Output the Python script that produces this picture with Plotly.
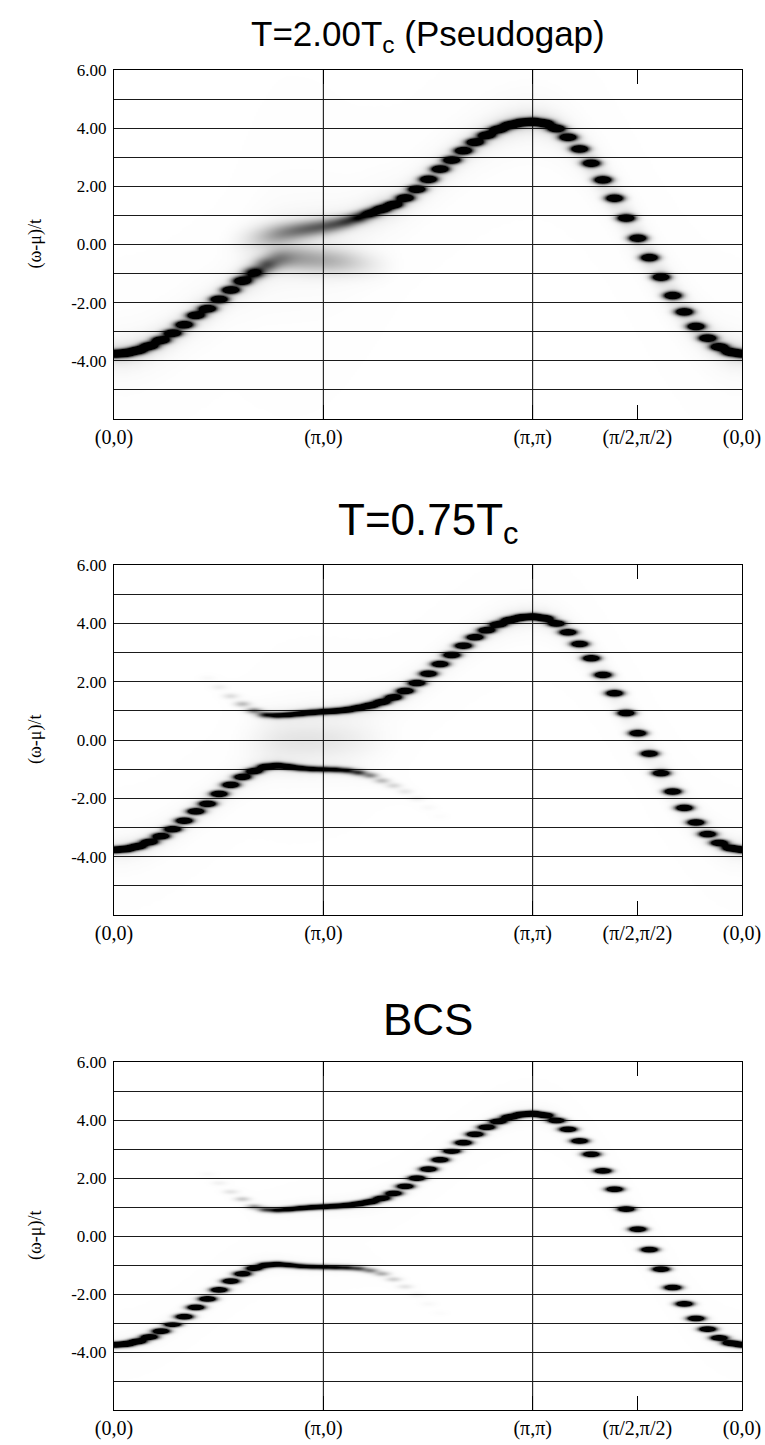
import numpy as np
import plotly.graph_objects as go

# ---------------- data ----------------
k_tick_vals = [0, 1, 2, 2.5, 3]
k_tick_text = ["(0,0)", "(π,0)", "(π,π)", "(π/2,π/2)", "(0,0)"]
k_nodes = [1, 2]
points_per_segment = 18
energy_tick_vals = [-4, -2, 0, 2, 4, 6]
energy_tick_text = ["-4.00", "-2.00", "0.00", "2.00", "4.00", "6.00"]
energy_grid_step = 1

# band energy (ω-μ)/t at each of the 55 k points along (0,0)-(π,0)-(π,π)-(0,0)
band_E = [-3.75, -3.72, -3.63, -3.48, -3.28, -3.04, -2.75, -2.43, -2.10, -1.75,
          -1.40, -1.07, -0.75, -0.46, -0.22, -0.02, 0.13, 0.22, 0.25,
          0.28, 0.37, 0.52, 0.72, 0.96, 1.25, 1.57, 1.90, 2.25, 2.60,
          2.93, 3.25, 3.54, 3.78, 3.98, 4.13, 4.22, 4.25,
          4.19, 4.01, 3.71, 3.31, 2.82, 2.25, 1.62, 0.94, 0.25, -0.45,
          -1.12, -1.75, -2.31, -2.81, -3.21, -3.51, -3.69, -3.75]

gap_start = 8  # gap-region arrays below cover k points 8..28

# T = 2.00 Tc (pseudogap)
pg_lower_E = [-2.20, -1.88, -1.56, -1.25, -0.98, -0.72, -0.50, -0.45, -0.48, -0.52, -0.55,
              -0.57, -0.60, -0.65, -0.70, -0.75, -0.80, -0.85, -0.90, -0.95, -1.00]
pg_lower_w = [1.0, 1.0, 1.0, 0.95, 0.65, 0.32, 0.22, 0.16, 0.13, 0.12, 0.11,
              0.10, 0.08, 0.05, 0.03, 0.015, 0.0, 0.0, 0.0, 0.0, 0.0]
pg_lower_g = [0.08, 0.08, 0.08, 0.09, 0.12, 0.17, 0.22, 0.27, 0.30, 0.30, 0.30,
              0.30, 0.30, 0.30, 0.30, 0.30, 0.30, 0.30, 0.30, 0.30, 0.30]
pg_upper_E = [2.20, 1.90, 1.60, 0.10, 0.20, 0.28, 0.38, 0.46, 0.53, 0.59, 0.65,
              0.72, 0.82, 0.95, 1.10, 1.25, 1.40, 1.63, 1.93, 2.27, 2.62]
pg_upper_w = [0.0, 0.0, 0.0, 0.02, 0.05, 0.10, 0.15, 0.18, 0.20, 0.22, 0.23,
              0.25, 0.30, 0.42, 0.65, 0.90, 1.0, 1.0, 1.0, 1.0, 1.0]
pg_upper_g = [0.30, 0.30, 0.30, 0.30, 0.30, 0.27, 0.24, 0.22, 0.20, 0.19, 0.18,
              0.16, 0.14, 0.12, 0.10, 0.085, 0.08, 0.08, 0.08, 0.08, 0.08]

# T = 0.75 Tc
t75_lower_E = [-2.17, -1.83, -1.52, -1.25, -1.05, -0.90, -0.86, -0.90, -0.95, -0.98, -0.99,
               -1.00, -1.03, -1.10, -1.20, -1.38, -1.55, -1.75, -2.00, -2.30, -2.60]
t75_lower_w = [1.0, 1.0, 1.0, 0.95, 0.90, 0.80, 0.70, 0.60, 0.50, 0.45, 0.42,
               0.40, 0.35, 0.30, 0.18, 0.10, 0.06, 0.035, 0.02, 0.01, 0.005]
t75_upper_E = [2.14, 1.83, 1.52, 1.25, 1.02, 0.88, 0.86, 0.88, 0.92, 0.96, 0.99,
               1.01, 1.05, 1.12, 1.20, 1.32, 1.48, 1.70, 1.97, 2.29, 2.62]
t75_upper_w = [0.01, 0.025, 0.05, 0.10, 0.20, 0.35, 0.45, 0.50, 0.55, 0.60, 0.62,
               0.65, 0.70, 0.75, 0.85, 0.90, 0.95, 1.0, 1.0, 1.0, 1.0]
t75_haze_w = [0.0, 0.0, 0.0, 0.0, 0.008, 0.02, 0.03, 0.035, 0.035, 0.035, 0.035,
              0.03, 0.025, 0.02, 0.012, 0.006, 0.0, 0.0, 0.0, 0.0, 0.0]

# BCS
bcs_lower_E = [-2.14, -1.83, -1.53, -1.28, -1.09, -0.98, -0.95, -0.98, -1.02, -1.04, -1.05,
               -1.06, -1.07, -1.10, -1.17, -1.28, -1.47, -1.72, -2.00, -2.31, -2.63]
bcs_lower_w = [0.99, 0.98, 0.96, 0.92, 0.84, 0.73, 0.62, 0.51, 0.44, 0.40, 0.38,
               0.36, 0.32, 0.26, 0.18, 0.12, 0.07, 0.04, 0.02, 0.01, 0.005]
bcs_upper_E = [2.14, 1.83, 1.53, 1.28, 1.02, 0.92, 0.90, 0.93, 0.97, 1.00, 1.02,
               1.04, 1.07, 1.12, 1.19, 1.31, 1.48, 1.72, 2.00, 2.31, 2.63]
bcs_upper_w = [0.01, 0.02, 0.04, 0.08, 0.16, 0.27, 0.38, 0.49, 0.56, 0.60, 0.62,
               0.64, 0.68, 0.74, 0.82, 0.88, 0.93, 0.96, 0.98, 0.99, 1.0]

titles = ["T=2.00T<sub>c</sub> (Pseudogap)", "T=0.75T<sub>c</sub>", "BCS"]
y_title = "(ω-μ)/t"

# ---------------- rendering ----------------
panels = [
    dict(lE=pg_lower_E, lw=pg_lower_w, lg=pg_lower_g, uE=pg_upper_E, uw=pg_upper_w, ug=pg_upper_g,
         hw=None, g0=0.08, sx0=0.027, tail=0.12),
    dict(lE=t75_lower_E, lw=t75_lower_w, lg=None, uE=t75_upper_E, uw=t75_upper_w, ug=None,
         hw=t75_haze_w, g0=0.068, sx0=0.026, tail=0.07),
    dict(lE=bcs_lower_E, lw=bcs_lower_w, lg=None, uE=bcs_upper_E, uw=bcs_upper_w, ug=None,
         hw=None, g0=0.06, sx0=0.026, tail=0.03),
]

xg = np.linspace(0, 3, 315)
yg = np.linspace(-6, 6, 351)
dk = 1.0 / points_per_segment


def build_z(p):
    comps = []
    n_gap = len(p["lE"])
    for i, e in enumerate(band_E):
        x = i / points_per_segment
        j = i - gap_start
        if 0 <= j < n_gap:
            comps.append((x, p["lE"][j], p["lw"][j], p["lg"][j] if p["lg"] else p["g0"]))
            comps.append((x, p["uE"][j], p["uw"][j], p["ug"][j] if p["ug"] else p["g0"]))
            if p["hw"]:
                comps.append((x, 0.5 * (p["lE"][j] + p["uE"][j]), p["hw"][j], 0.45))
        else:
            comps.append((x, e, 1.0, p["g0"]))
    z = np.zeros((len(yg), len(xg)))
    for (x, e, w, g) in comps:
        if w <= 0:
            continue
        sx = p["sx0"] + 0.12 * max(0.0, g - p["g0"])
        norm = min(1.0, 1.17 * dk / (np.sqrt(2 * np.pi) * sx))
        gx = np.exp(-0.5 * ((xg - x) / sx) ** 2) * norm
        d = yg - e
        gy = (1 - p["tail"]) * np.exp(-0.5 * (d / g) ** 2) + p["tail"] / (1 + (d / (2.5 * g)) ** 2)
        z += w * np.outer(gy, gx)
    return np.round(np.clip(z, 0, 1), 3)


colorscale = [[0, "rgba(0,0,0,0)"], [0.4, "rgba(0,0,0,1)"], [1, "rgba(0,0,0,1)"]]

fig = go.Figure()
H = 1445 - 70 - 35
px_panels = [(70, 419), (565, 915), (1062, 1410)]
title_px = [36, 523, 1019]
title_size = [35, 44, 44]
serif = "Liberation Serif, Times New Roman, serif"
sans = "Liberation Sans, Arial, sans-serif"

annotations = []
shapes = []
for n, p in enumerate(panels):
    ax = "" if n == 0 else str(n + 1)
    fig.add_trace(go.Heatmap(x=xg, y=yg, z=build_z(p), colorscale=colorscale, zmin=0, zmax=1,
                             zsmooth="best", showscale=False, hoverinfo="skip",
                             xaxis="x" + ax, yaxis="y" + ax))
    top, bot = px_panels[n]
    dom = [(1410 - bot) / H, (1410 - top) / H]
    fig.update_layout(**{
        "xaxis" + ax: dict(domain=[0, 1], range=[0, 3], anchor="y" + ax, automargin=False,
                           tickmode="array", tickvals=k_tick_vals, ticktext=k_tick_text,
                           ticks="inside", ticklen=14, tickwidth=1, tickcolor="black",
                           showgrid=False, zeroline=False, showline=True, linecolor="black",
                           linewidth=1, mirror="ticks",
                           tickfont=dict(family=serif, size=20, color="black")),
        "yaxis" + ax: dict(domain=dom, range=[-6, 6], anchor="x" + ax, automargin=False,
                           tickmode="array", tickvals=energy_tick_vals, ticktext=energy_tick_text,
                           ticks="", showgrid=True, gridcolor="#1a1a1a", gridwidth=1,
                           minor=dict(tick0=0, dtick=energy_grid_step, showgrid=True,
                                      gridcolor="#1a1a1a", gridwidth=1, ticks=""),
                           zeroline=False, showline=True, linecolor="black", linewidth=1,
                           mirror=True, ticklabelstandoff=3,
                           tickfont=dict(family=serif, size=17, color="black")),
    })
    for k in k_nodes:
        shapes.append(dict(type="line", xref="x" + ax, yref="y" + ax, x0=k, x1=k, y0=-6, y1=6,
                           line=dict(color="black", width=1), layer="below"))
    annotations.append(dict(text=titles[n], xref="paper", yref="paper", x=0.5,
                            y=(1410 - title_px[n]) / H, xanchor="center", yanchor="middle",
                            showarrow=False, font=dict(family=sans, size=title_size[n], color="black")))
    annotations.append(dict(text=y_title, xref="paper", yref="paper", x=(35 - 114) / 628,
                            y=(dom[0] + dom[1]) / 2, xanchor="center", yanchor="middle",
                            textangle=-90, showarrow=False,
                            font=dict(family=serif, size=18, color="black")))

fig.update_layout(width=765, height=1445, margin=dict(l=114, r=23, t=70, b=35, autoexpand=False),
                  paper_bgcolor="white", plot_bgcolor="white", showlegend=False,
                  annotations=annotations, shapes=shapes)

fig.write_html("out.html", config={"displayModeBar": False},
               post_script="document.body.style.margin='0px';document.body.style.overflow='hidden';")
